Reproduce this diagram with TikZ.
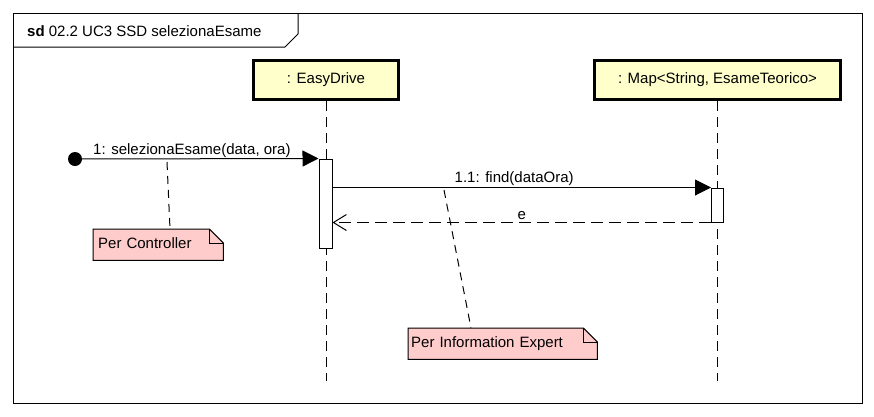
\documentclass[tikz,border=0pt]{standalone}
\usepackage{fontspec}
\setmainfont{Liberation Sans}
\usetikzlibrary{arrows.meta,backgrounds}
\definecolor{lifefill}{RGB}{255,255,204}
\definecolor{notefill}{RGB}{255,204,204}
\tikzset{
  every node/.style={font=\fontsize{15}{17}\selectfont},
  thinline/.style={line width=1pt},
  lifebox/.style={draw, line width=3.2pt, fill=lifefill, minimum height=39pt, inner sep=0pt},
  actbar/.style={draw, line width=1pt, fill=white, inner sep=0pt},
  lifeline/.style={line width=1pt, dash pattern=on 10pt off 6pt},
  msg/.style={line width=1pt, -{Triangle[length=16pt,width=16pt]}},
  retmsg/.style={line width=1pt, dash pattern=on 12pt off 6pt, -{Straight Barb[length=13pt,width=16pt,line width=1pt]}},
  anchorline/.style={line width=1pt, dash pattern=on 8pt off 6pt},
  notebox/.style={minimum height=31pt, inner sep=0pt, anchor=north west, text height=11pt, text depth=3pt, align=left},
  notebg/.style={draw, line width=1pt, fill=notefill},
  msglabel/.style={inner sep=1pt, anchor=south}
}
\begin{document}
\begin{tikzpicture}[x=1pt,y=-1pt]
\useasboundingbox (0,0) rectangle (874,416);
% frame
\node[draw, thinline, minimum width=849pt, minimum height=390pt, inner sep=0pt, anchor=north west] (frame) at (13,13) {};
\coordinate (tabA) at (298,13);
\coordinate (tabB) at (298,34);
\coordinate (tabC) at (285,47);
\coordinate (tabD) at (13,47);
\draw[thinline] (tabA) -- (tabB) -- (tabC) -- (tabD);
\node[anchor=west, inner sep=0pt] (title) at (27,31) {\textbf{sd} 02.2 UC3 SSD selezionaEsame};

% lifelines
\node[lifebox, minimum width=145pt] (ed) at (326,80) {: EasyDrive};
\node[lifebox, minimum width=246pt] (map) at (717.5,80) {: Map<String, EsameTeorico>};
\coordinate (edEnd) at (326,381);
\coordinate (mapEnd) at (717.5,381);
\draw[lifeline] (ed.south) -- (edEnd);
\draw[lifeline] (map.south) -- (mapEnd);

% activation bars
\node[actbar, minimum width=13pt, minimum height=89pt] (act1) at (325.5,203.5) {};
\node[actbar, minimum width=12pt, minimum height=34pt] (act2) at (717.5,205) {};

% start
\node[circle, fill=black, minimum size=14pt, inner sep=0pt] (start) at (75,159) {};

% messages
\draw[msg] (start.center) -- node[msglabel, pos=0.48] (m1) {1: selezionaEsame(data, ora)} (act1.north west);
\coordinate (f1) at (act1.east |- act2.north);
\draw[msg] (f1) -- node[msglabel, pos=0.48] (m2) {1.1: find(dataOra)} (act2.north west);
\coordinate (r1) at (act1.east |- act2.south);
\draw[retmsg] (act2.south west) -- node[msglabel, pos=0.5, inner sep=2pt] (m3) {e} (r1);

% notes
\node[notebox, minimum width=130pt, text width=126pt] (n1) at (93,229) {\hspace*{3pt}Per Controller};
\node[notebox, minimum width=189pt, text width=185pt] (n2) at (408,328) {\hspace*{1pt}Per Information Expert};
\begin{scope}[on background layer]
\draw[notebg] (n1.north west) -- ([xshift=-14pt]n1.north east) -- ([yshift=-14pt]n1.north east) -- (n1.south east) -- (n1.south west) -- cycle;
\draw[thinline] ([xshift=-14pt]n1.north east) -- ([xshift=-14pt,yshift=-14pt]n1.north east) -- ([yshift=-14pt]n1.north east);
\draw[notebg] (n2.north west) -- ([xshift=-14pt]n2.north east) -- ([yshift=-14pt]n2.north east) -- (n2.south east) -- (n2.south west) -- cycle;
\draw[thinline] ([xshift=-14pt]n2.north east) -- ([xshift=-14pt,yshift=-14pt]n2.north east) -- ([yshift=-14pt]n2.north east);
\end{scope}

% note anchors
\coordinate (a1) at (167,162);
\coordinate (a2) at (444,190);
\draw[anchorline] (a1) -- (n1.north -| 170,0);
\draw[anchorline] (a2) -- (n2.north -| 471,0);
\end{tikzpicture}
\end{document}
